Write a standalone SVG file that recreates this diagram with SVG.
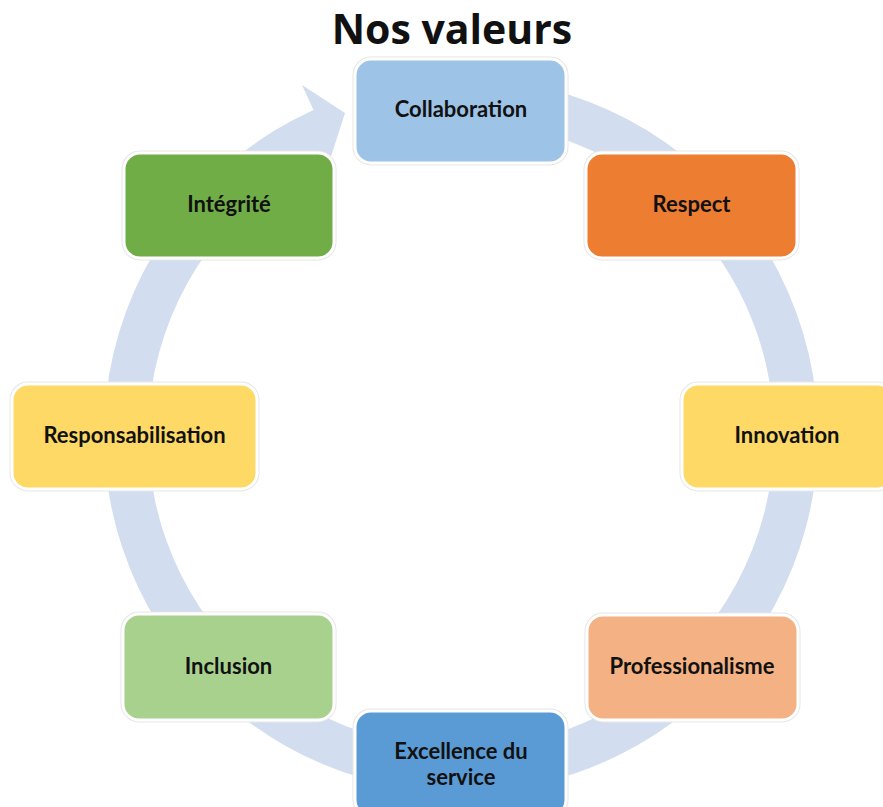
<svg xmlns="http://www.w3.org/2000/svg" width="883" height="807" viewBox="0 0 883 807">
  <style>
    .title { font-family: "Open Sans", "Liberation Sans", sans-serif; font-weight: 700; font-size: 41px; fill: #111; }
    .halo { fill: none; stroke: #e6e6e6; stroke-width: 5; }
    .box { stroke: #ffffff; stroke-width: 3; }
    .label { font-family: Lato, "Liberation Sans", sans-serif; font-weight: 700; font-size: 22px; fill: #111; text-anchor: middle; }
    .ring { fill: #D2DDEF; }
  </style>

  <rect width="883" height="807" fill="#ffffff"/>

  <text class="title" x="452" y="44" text-anchor="middle">Nos valeurs</text>

  <!-- circular arrow running clockwise behind the values -->
  <g id="connectors">
    <path class="ring" d="M461,78 A357,357 0 1 1 313.5,109.9 L302,85 L345,113 L326,172 L323.8,153.7 A313,313 0 1 0 461,122 Z"/>
  </g>

  <g id="collaboration">
    <rect class="halo" x="355" y="59" width="211" height="104" rx="16"/>
    <rect class="box" x="355" y="59" width="211" height="104" rx="16" fill="#9DC3E6"/>
    <text class="label" x="461" y="117">Collaboration</text>
  </g>

  <g id="respect">
    <rect class="halo" x="586" y="153" width="211" height="105" rx="16"/>
    <rect class="box" x="586" y="153" width="211" height="105" rx="16" fill="#ED7D31"/>
    <text class="label" x="691.5" y="212">Respect</text>
  </g>

  <g id="innovation">
    <rect class="halo" x="682" y="384" width="211" height="105" rx="16"/>
    <rect class="box" x="682" y="384" width="211" height="105" rx="16" fill="#FFD966"/>
    <text class="label" x="787" y="443">Innovation</text>
  </g>

  <g id="professionalisme">
    <rect class="halo" x="587" y="615" width="211" height="105" rx="16"/>
    <rect class="box" x="587" y="615" width="211" height="105" rx="16" fill="#F4B183"/>
    <text class="label" x="692" y="674">Professionalisme</text>
  </g>

  <g id="excellence">
    <rect class="halo" x="355" y="711" width="211" height="105" rx="16"/>
    <rect class="box" x="355" y="711" width="211" height="105" rx="16" fill="#5B9BD5"/>
    <text class="label" x="461" y="759">Excellence du</text>
    <text class="label" x="461" y="785">service</text>
  </g>

  <g id="inclusion">
    <rect class="halo" x="123" y="614" width="211" height="106" rx="16"/>
    <rect class="box" x="123" y="614" width="211" height="106" rx="16" fill="#A9D18E"/>
    <text class="label" x="228.5" y="674">Inclusion</text>
  </g>

  <g id="responsabilisation">
    <rect class="halo" x="12" y="384" width="245" height="105" rx="16"/>
    <rect class="box" x="12" y="384" width="245" height="105" rx="16" fill="#FFD966"/>
    <text class="label" x="134.5" y="443">Responsabilisation</text>
  </g>

  <g id="integrite">
    <rect class="halo" x="124" y="153" width="210" height="105" rx="16"/>
    <rect class="box" x="124" y="153" width="210" height="105" rx="16" fill="#70AD47"/>
    <text class="label" x="229" y="212">Intégrité</text>
  </g>
</svg>
